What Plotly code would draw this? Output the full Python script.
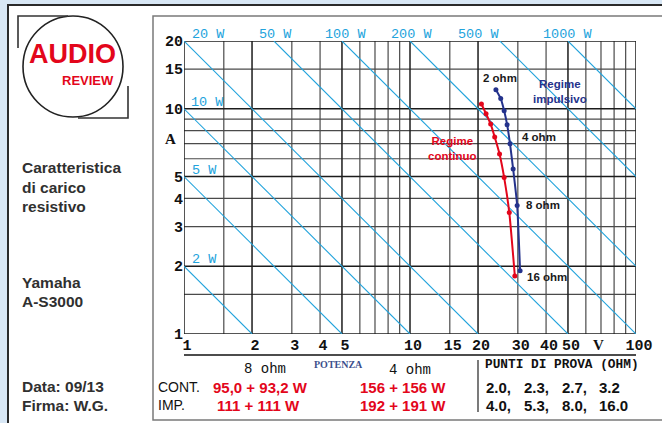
import numpy as np
import plotly.graph_objects as go

W, H = 662, 423

# ---------------- data ----------------
test_ohms = [2.0, 2.3, 2.7, 3.2, 4.0, 5.3, 8.0, 16.0]
cont_volts = [20.7, 21.7, 22.75, 23.7, 24.9, 26.1, 27.5, 29.1]
cont_amps = [10.5, 9.5, 8.55, 7.5, 6.3, 4.95, 3.46, 1.81]
imp_volts = [24.0, 25.2, 26.1, 26.9, 27.7, 28.6, 29.8, 30.7]
imp_amps = [12.15, 11.1, 9.8, 8.5, 7.0, 5.4, 3.72, 1.91]
power_levels = [2, 5, 10, 20, 50, 100, 200, 500, 1000]
x_ticks = [1, 2, 3, 4, 5, 10, 15, 20, 30, 40, 50, 100]
y_ticks = [1, 2, 3, 4, 5, 10, 15, 20]
x_grid_major = [1, 2, 5, 10, 20, 50, 100]
x_grid_minor = [1.5, 3, 4, 6, 7, 8, 9, 15, 30, 40, 60, 70, 80, 90]
y_grid_major = [1, 2, 5, 10, 20]
y_grid_minor = [1.5, 3, 4, 6, 7, 8, 9, 15]
x_min, x_max = 1, 100
y_min, y_max = 1, 20
power_8 = ["95,0 + 93,2 W", "111 + 111 W"]
power_4 = ["156 + 156 W", "192 + 191 W"]

RED = "#e3061b"
NAVY = "#24328c"
SKY = "#22a3dc"
MONO = "Liberation Mono, Courier New, monospace"
SANS = "Liberation Sans, Arial, sans-serif"
SERIF = "Liberation Serif, Times New Roman, serif"


def fx(x):
    return x / W


def fy(y):
    return 1 - y / H


fig = go.Figure()


def grid_trace(vals, vertical, color, width):
    xs, ys = [], []
    for v in vals:
        if vertical:
            xs += [v, v, None]
            ys += [y_min, y_max, None]
        else:
            xs += [x_min, x_max, None]
            ys += [v, v, None]
    return go.Scatter(x=xs, y=ys, mode="lines", line=dict(color=color, width=width),
                      hoverinfo="skip", showlegend=False)


fig.add_trace(grid_trace(x_grid_minor, True, "#4a4a4a", 1.2))
fig.add_trace(grid_trace(y_grid_minor, False, "#4a4a4a", 1.2))
fig.add_trace(grid_trace(x_grid_major, True, "#1c1c1c", 1.5))
fig.add_trace(grid_trace(y_grid_major, False, "#1c1c1c", 1.5))

# constant power lines
for P in power_levels:
    xa = max(x_min, P / y_max)
    xb = min(x_max, P / y_min)
    fig.add_trace(go.Scatter(x=[xa, xb], y=[P / xa, P / xb], mode="lines",
                             line=dict(color=SKY, width=1.1), hoverinfo="skip",
                             showlegend=False))

# measured curves
fig.add_trace(go.Scatter(x=cont_volts, y=cont_amps, mode="lines+markers",
                         line=dict(color=RED, width=2, shape="spline", smoothing=0.5),
                         marker=dict(color=RED, size=5), showlegend=False))
fig.add_trace(go.Scatter(x=imp_volts, y=imp_amps, mode="lines+markers",
                         line=dict(color=NAVY, width=2, shape="spline", smoothing=0.5),
                         marker=dict(color=NAVY, size=5), showlegend=False))

shapes = []
shapes.append(dict(type="rect", xref="paper", yref="paper", x0=fx(8), x1=fx(700),
                   y0=fy(460), y1=fy(5), fillcolor="white",
                   line=dict(color="#2a2a2a", width=2), layer="below"))
shapes.append(dict(type="rect", xref="paper", yref="paper", x0=fx(153), x1=fx(700),
                   y0=fy(420), y1=fy(16), fillcolor="rgba(0,0,0,0)",
                   line=dict(color="#7a7a7a", width=1.5), layer="below"))
shapes.append(dict(type="line", xref="paper", yref="paper", x0=fx(184), x1=fx(636),
                   y0=fy(355), y1=fy(355), line=dict(color="#111", width=1.4)))
shapes.append(dict(type="line", xref="paper", yref="paper", x0=fx(478), x1=fx(478),
                   y0=fy(360), y1=fy(412), line=dict(color="#222", width=1.2)))
shapes.append(dict(type="circle", xref="paper", yref="paper", x0=fx(23), x1=fx(123),
                   y0=fy(117), y1=fy(16), line=dict(color="#222", width=1.6)))
shapes.append(dict(type="path", xref="paper", yref="paper",
                   path=f"M {fx(68)} {fy(16)} L {fx(18)} {fy(16)} L {fx(18)} {fy(48)}",
                   line=dict(color="#333", width=1.6)))
shapes.append(dict(type="path", xref="paper", yref="paper",
                   path=f"M {fx(128)} {fy(86)} L {fx(128)} {fy(118)} L {fx(78)} {fy(118)}",
                   line=dict(color="#333", width=1.6)))

annotations = []


def ann(text, x, y, size, color="#111", family=SANS, weight="normal", xanchor="left"):
    annotations.append(dict(text=text, x=fx(x), y=fy(y), xref="paper", yref="paper",
                            xanchor=xanchor, yanchor="middle", showarrow=False,
                            font=dict(size=size, color=color, family=family, weight=weight)))


# logo text
ann("AUDIO", 72, 54, 27, RED, SANS, "bold", "center")
ann("REVIEW", 88, 80, 13, RED, SANS, "bold", "center")

# left panel text
for t, y in [("Caratteristica", 167), ("di carico", 187), ("resistivo", 207),
             ("Yamaha", 282), ("A-S3000", 301), ("Data: 09/13", 386), ("Firma: W.G.", 405)]:
    ann(t, 20, y, 15.5, "#303030", SANS, "bold")

# power labels
pw_pos = {20: (190, 34), 50: (257, 34), 100: (323, 34), 200: (389, 34), 500: (456, 34),
          1000: (541, 34), 10: (189, 102), 5: (190, 170), 2: (190, 259)}
for P in power_levels:
    x, y = pw_pos[P]
    ann(f"{P} W", x, y, 13.5, SKY, MONO)

# axis letters
ann("A", 170, 139, 15, "#111", SERIF, "bold", "center")
ann("V", 598, 345, 15, "#111", SERIF, "bold", "center")

# curve labels
ann("2 ohm", 481, 78, 11.5, "#1a1a1a", SANS, "bold")
ann("4 ohm", 520, 137, 11.5, "#1a1a1a", SANS, "bold")
ann("8 ohm", 524, 205, 11.5, "#1a1a1a", SANS, "bold")
ann("16 ohm", 525, 277, 11.5, "#1a1a1a", SANS, "bold")
ann("Regime<br>impulsivo", 531, 92, 11.5, NAVY, SANS, "bold")
ann("Regime<br>continuo", 426, 148, 11.5, RED, SANS, "bold")

# table
ann("8 ohm", 265, 369, 14, "#111", MONO, "normal", "center")
ann("POTENZA", 338, 364, 10, "#3c4f8c", SERIF, "bold", "center")
ann("4 ohm", 410, 370, 14, "#111", MONO, "normal", "center")
ann("PUNTI DI PROVA (OHM)", 483, 364, 12.8, "#111", MONO, "bold")
ann("CONT.", 156, 387, 14, "#111", SANS)
ann("IMP.", 156, 405, 14, "#111", SANS)
ann(power_8[0], 260, 387, 15, RED, SANS, "bold", "center")
ann(power_8[1], 258, 405, 15, RED, SANS, "bold", "center")
ann(power_4[0], 403, 387, 15, RED, SANS, "bold", "center")
ann(power_4[1], 403, 405, 15, RED, SANS, "bold", "center")
col_x = [484, 522, 560, 597]
for i, r in enumerate(test_ohms):
    row, col = divmod(i, 4)
    sep = "," if col < 3 else ""
    ann(f"{r:.1f}{sep}", col_x[col], 387 + 18 * row, 15, "#111", SANS, "bold")

fig.update_layout(
    width=W, height=H,
    margin=dict(l=0, r=0, t=0, b=0, pad=0, autoexpand=False),
    paper_bgcolor="#d8e7f5",
    plot_bgcolor="white",
    shapes=shapes,
    annotations=annotations,
    xaxis=dict(type="log", range=[np.log10(x_min), np.log10(x_max)],
               domain=[fx(184), fx(636)], showgrid=False, zeroline=False,
               automargin=False,
               tickvals=x_ticks, ticktext=[str(v) for v in x_ticks], ticks="",
               tickfont=dict(family=MONO, size=15, color="#111", weight="bold"),
               ticklabelshift=3, showline=False),
    yaxis=dict(type="log", range=[np.log10(y_min), np.log10(y_max)],
               domain=[fy(334), fy(41)], showgrid=False, zeroline=False,
               automargin=False,
               tickvals=y_ticks, ticktext=[str(v) for v in y_ticks], ticks="",
               tickfont=dict(family=MONO, size=15, color="#111", weight="bold"),
               showline=False),
)

fig.write_html("out.html")
